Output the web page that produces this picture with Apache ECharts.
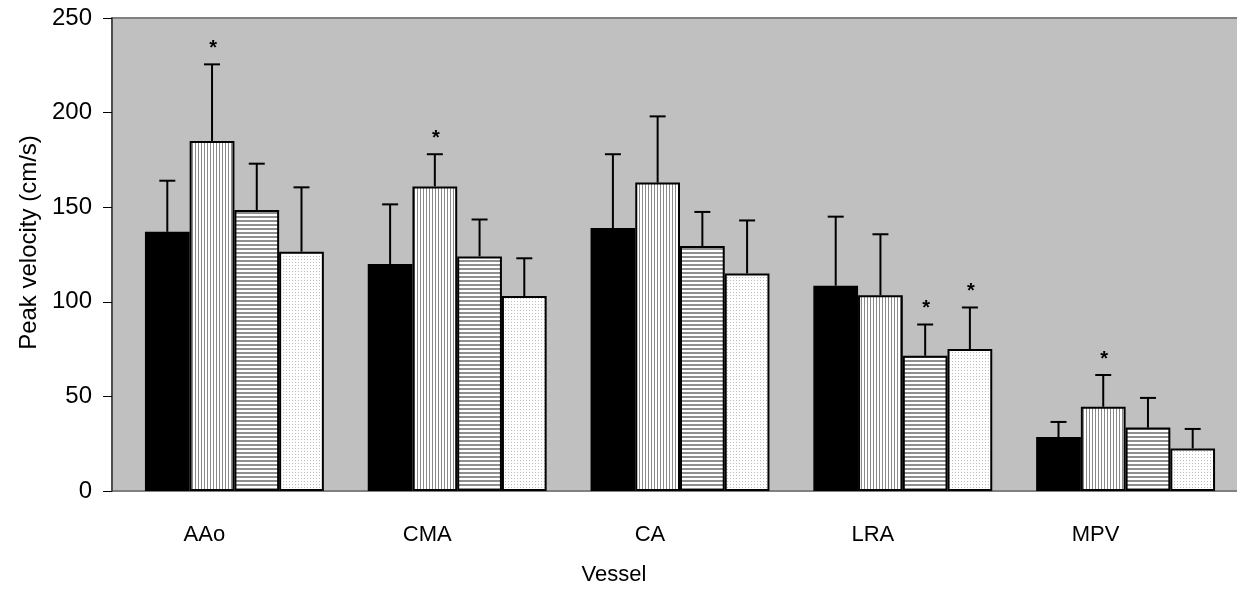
<!DOCTYPE html>
<html><head><meta charset="utf-8">
<script src="https://cdn.jsdelivr.net/npm/echarts@6/dist/echarts.min.js"></script>
<style>html,body{margin:0;padding:0;background:#fff}#c{width:1237px;height:591px}</style>
</head><body><div id="c"></div>
<script>
var categories = ['AAo', 'CMA', 'CA', 'LRA', 'MPV'];
var yTicks = [0, 50, 100, 150, 200, 250];
// means
var s1 = [137, 120, 139, 108.5, 28.5];
var s2 = [185, 161, 163, 103.5, 44.5];
var s3 = [148.5, 124, 129.5, 71.5, 33.5];
var s4 = [126.5, 103, 115, 75, 22.5];
// upper error bar ends
var e1 = [164, 151.5, 178, 145, 36.5];
var e2 = [225.5, 178, 198, 135.7, 61.3];
var e3 = [173, 143.5, 147.5, 88, 49.2];
var e4 = [160.5, 123, 143, 97, 32.8];
// significance markers
var st1 = [0, 0, 0, 0, 0];
var st2 = [1, 1, 0, 0, 1];
var st3 = [0, 0, 0, 1, 0];
var st4 = [0, 0, 0, 1, 0];

function pat(kind) {
  var c = document.createElement('canvas');
  var ctx;
  if (kind === 'v') {
    c.width = 3; c.height = 3; ctx = c.getContext('2d');
    ctx.fillStyle = '#fff'; ctx.fillRect(0,0,3,3);
    ctx.fillStyle = '#8a8a8a'; ctx.fillRect(0,0,1,3);
  } else if (kind === 'h') {
    c.width = 4; c.height = 4; ctx = c.getContext('2d');
    ctx.fillStyle = '#fff'; ctx.fillRect(0,0,4,4);
    ctx.fillStyle = '#8f8f8f'; ctx.fillRect(0,0,4,2);
  } else {
    c.width = 3; c.height = 3; ctx = c.getContext('2d');
    ctx.fillStyle = '#fff'; ctx.fillRect(0,0,3,3);
    ctx.fillStyle = '#bdbdbd'; ctx.fillRect(1,1,1,1);
  }
  return {image: c, repeat: 'repeat'};
}

var means = [s1, s2, s3, s4];
var errs = [e1, e2, e3, e4];
var stars = [st1, st2, st3, st4];
var errData = [];
for (var s = 0; s < 4; s++) for (var i = 0; i < categories.length; i++)
  errData.push([i, s, means[s][i], errs[s][i], stars[s][i]]);

var GAP = 0.197;
var fills = ['#000', pat('v'), pat('h'), pat('d')];
var series = means.map(function (d, k) {
  return {
    type: 'bar', data: d, barGap: '0%', barCategoryGap: (GAP*100) + '%',
    itemStyle: {color: fills[k], borderColor: '#000', borderWidth: 2},
    z: 3
  };
});
series.push({
  type: 'custom', data: errData, z: 2,
  encode: {x: 0, y: 3},
  renderItem: function (params, api) {
    var cat = api.value(0), k = api.value(1);
    var band = api.size([1, 0])[0];
    var bw = band * (1 - GAP) / 4;
    var off = (k - 1.5) * bw;
    var p0 = api.coord([cat, api.value(2)]);
    var p1 = api.coord([cat, api.value(3)]);
    var x = p0[0] + off;
    var st = {stroke: '#000', lineWidth: 2};
    var ch = [
      {type: 'line', shape: {x1: x, y1: p0[1], x2: x, y2: p1[1]}, style: st},
      {type: 'line', shape: {x1: x - 8, y1: p1[1], x2: x + 8, y2: p1[1]}, style: st}
    ];
    if (api.value(4)) ch.push({type: 'text', style: {text: '*', x: x + 1, y: p1[1] - 16,
      align: 'center', verticalAlign: 'middle', fill: '#000', font: 'bold 20px "Liberation Sans"'}});
    return {type: 'group', children: ch};
  }
});

var chart = echarts.init(document.getElementById('c'), null, {renderer: 'canvas'});
chart.setOption({
  animation: false,
  textStyle: {fontFamily: 'Liberation Sans'},
  grid: {left: 123, right: -7, top: 18, bottom: 100, containLabel: false},
  graphic: [
    {type: 'rect', z: -10, shape: {x: 112, y: 18, width: 1125, height: 473}, style: {fill: '#c0c0c0'}},
    {type: 'line', z: -9, shape: {x1: 112, y1: 18, x2: 1237, y2: 18}, style: {stroke: '#808080', lineWidth: 2}},
    {type: 'line', z: -9, shape: {x1: 112, y1: 491, x2: 1237, y2: 491}, style: {stroke: '#808080', lineWidth: 2}}
  ],
  xAxis: {
    type: 'category', data: categories,
    axisLine: {show: false}, axisTick: {show: false},
    axisLabel: {margin: 33, fontSize: 22, color: '#000', padding: [0, 60, 0, 0], fontFamily: 'Liberation Sans'},
    name: 'Vessel', nameLocation: 'middle', nameGap: 73,
    nameTextStyle: {fontSize: 22, color: '#000', padding: [0, 132, 0, 0], fontFamily: 'Liberation Sans'}
  },
  yAxis: {
    type: 'value', min: yTicks[0], max: yTicks[yTicks.length - 1], interval: 50, offset: 11,
    splitLine: {show: false},
    axisLine: {show: true, lineStyle: {color: '#4d4d4d', width: 2}},
    axisTick: {show: true, length: 9, lineStyle: {color: '#000', width: 1}},
    axisLabel: {margin: 20, fontSize: 24, color: '#000', fontFamily: 'Liberation Sans'},
    name: 'Peak velocity (cm/s)', nameLocation: 'middle', nameGap: 70,
    nameTextStyle: {fontSize: 24, color: '#000', padding: [0, 0, 0, 24], fontFamily: 'Liberation Sans'}
  },
  series: series
});
</script></body></html>
